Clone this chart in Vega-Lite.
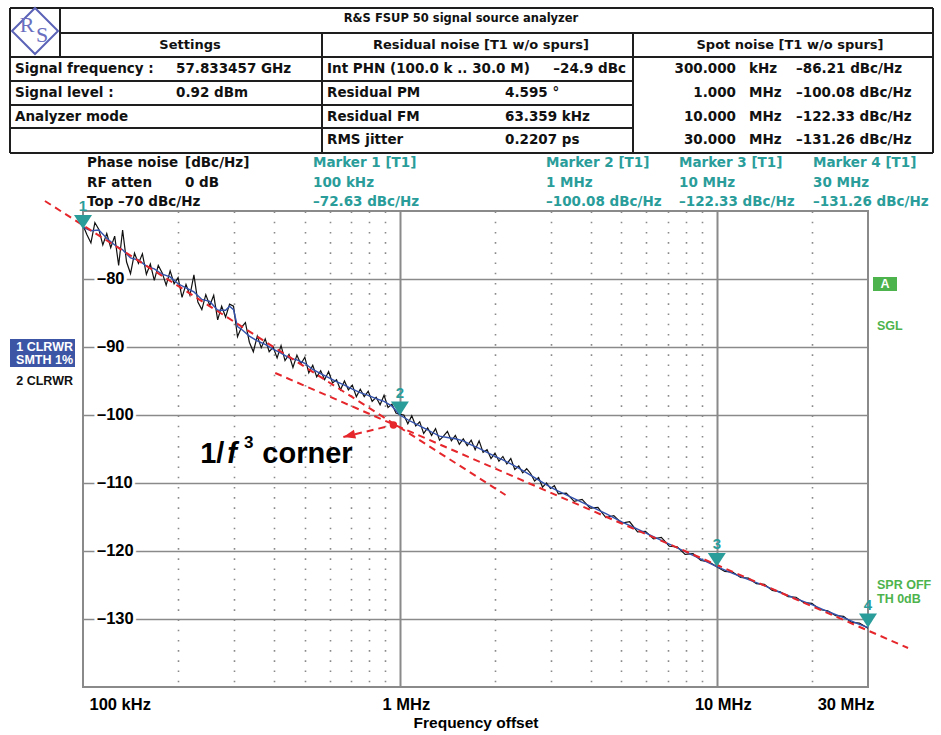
{
  "$schema": "https://vega.github.io/schema/vega-lite/v6.json",
  "width": 785,
  "height": 476,
  "autosize": {"type": "none"},
  "padding": {"left": 83, "top": 211, "right": 73, "bottom": 48},
  "background": "white",
  "config": {"view": {"stroke": "#8a8a8a", "strokeWidth": 2}},
  "datasets": {
    "t2": [
      {"f":100000,"db":-72.1},{"f":102920,"db":-73.5},{"f":105930,"db":-74.7},{"f":109020,"db":-71.7},{"f":112200,"db":-72.7},{"f":115480,"db":-75.0},{"f":118850,"db":-73.3},{"f":122320,"db":-75.4},{"f":125890,"db":-73.7},{"f":129570,"db":-78.0},
      {"f":133350,"db":-72.8},{"f":137250,"db":-77.5},{"f":141250,"db":-79.2},{"f":145380,"db":-76.2},{"f":149620,"db":-77.7},{"f":153990,"db":-76.3},{"f":158490,"db":-79.3},{"f":163120,"db":-77.8},{"f":167880,"db":-80.2},{"f":172780,"db":-78.0},
      {"f":177830,"db":-79.1},{"f":183020,"db":-80.9},{"f":188360,"db":-78.8},{"f":193870,"db":-80.7},{"f":199530,"db":-79.8},{"f":205350,"db":-82.7},{"f":211350,"db":-80.8},{"f":217520,"db":-82.4},{"f":223870,"db":-79.4},{"f":230410,"db":-83.4},
      {"f":237140,"db":-84.5},{"f":244060,"db":-82.3},{"f":251190,"db":-83.9},{"f":258520,"db":-82.4},{"f":266070,"db":-86.0},{"f":273840,"db":-84.0},{"f":281840,"db":-85.6},{"f":290070,"db":-83.7},{"f":298540,"db":-84.0},{"f":307260,"db":-88.5},
      {"f":316230,"db":-87.1},{"f":325460,"db":-86.4},{"f":334970,"db":-89.3},{"f":344750,"db":-90.7},{"f":354810,"db":-88.4},{"f":365170,"db":-90.1},{"f":375840,"db":-88.8},{"f":386810,"db":-90.7},{"f":398110,"db":-90.0},{"f":409730,"db":-91.6},
      {"f":421700,"db":-89.8},{"f":434010,"db":-92.0},{"f":446680,"db":-91.1},{"f":459730,"db":-93.0},{"f":473150,"db":-91.2},{"f":486970,"db":-92.5},{"f":501190,"db":-91.5},{"f":515820,"db":-93.8},{"f":530880,"db":-92.7},{"f":546390,"db":-94.4},
      {"f":562340,"db":-93.5},{"f":578760,"db":-94.8},{"f":595660,"db":-93.6},{"f":613060,"db":-95.3},{"f":630960,"db":-94.8},{"f":649380,"db":-96.3},{"f":668340,"db":-95.0},{"f":687860,"db":-96.3},{"f":707950,"db":-95.6},{"f":728620,"db":-97.3},
      {"f":749890,"db":-96.2},{"f":771790,"db":-97.3},{"f":794330,"db":-96.5},{"f":817520,"db":-98.0},{"f":841400,"db":-97.4},{"f":865960,"db":-98.5},{"f":891250,"db":-97.1},{"f":917280,"db":-98.9},{"f":944060,"db":-98.4},{"f":971630,"db":-99.7},
      {"f":1000000,"db":-99.9},{"f":1029200,"db":-100.0},{"f":1059300,"db":-101.3},{"f":1090200,"db":-100.1},{"f":1122000,"db":-101.6},{"f":1154800,"db":-101.0},{"f":1188500,"db":-102.7},{"f":1223200,"db":-101.9},{"f":1258900,"db":-103.0},{"f":1295700,"db":-102.0},
      {"f":1333500,"db":-103.7},{"f":1372500,"db":-103.1},{"f":1412500,"db":-102.4},{"f":1453800,"db":-103.8},{"f":1496200,"db":-103.0},{"f":1539900,"db":-104.3},{"f":1584900,"db":-103.5},{"f":1631200,"db":-104.5},{"f":1678800,"db":-103.7},{"f":1727800,"db":-105.1},
      {"f":1778300,"db":-103.8},{"f":1830200,"db":-105.5},{"f":1883600,"db":-105.1},{"f":1938700,"db":-106.4},{"f":1995300,"db":-105.6},{"f":2053500,"db":-106.8},{"f":2113500,"db":-106.1},{"f":2175200,"db":-107.2},{"f":2238700,"db":-106.4},{"f":2304100,"db":-108.0},
      {"f":2371400,"db":-107.5},{"f":2440600,"db":-108.5},{"f":2511900,"db":-107.9},{"f":2585200,"db":-108.6},{"f":2660700,"db":-109.7},{"f":2738400,"db":-109.2},{"f":2818400,"db":-110.6},{"f":2900700,"db":-110.0},{"f":2985400,"db":-110.8},{"f":3072600,"db":-110.4},
      {"f":3162300,"db":-111.6},{"f":3349700,"db":-111.5},{"f":3548100,"db":-112.7},{"f":3758400,"db":-112.4},{"f":3981100,"db":-113.7},{"f":4217000,"db":-113.6},{"f":4466800,"db":-115.1},{"f":4731500,"db":-114.8},{"f":5011900,"db":-115.9},{"f":5308800,"db":-115.7},
      {"f":5623400,"db":-117.2},{"f":5956600,"db":-117.1},{"f":6309600,"db":-118.2},{"f":6683400,"db":-118.0},{"f":7079500,"db":-119.3},{"f":7498900,"db":-119.4},{"f":7943300,"db":-120.5},{"f":8414000,"db":-120.4},{"f":8912500,"db":-121.4},{"f":9440600,"db":-121.6},
      {"f":10000000,"db":-122.3},{"f":10593000,"db":-123.0},{"f":11220000,"db":-123.1},{"f":11885000,"db":-123.9},{"f":12589000,"db":-124.0},{"f":13335000,"db":-124.8},{"f":14125000,"db":-124.9},{"f":14962000,"db":-125.8},{"f":15849000,"db":-126.0},{"f":16788000,"db":-126.7},
      {"f":17783000,"db":-126.8},{"f":18836000,"db":-127.6},{"f":19953000,"db":-127.7},{"f":21135000,"db":-128.6},{"f":22387000,"db":-128.8},{"f":23714000,"db":-129.5},{"f":25119000,"db":-129.6},{"f":26607000,"db":-130.5},{"f":28184000,"db":-130.6},{"f":29854000,"db":-131.3},
      {"f":30000000,"db":-131.3}
    ],
    "t1": [
      {"f":100000,"db":-72.4},{"f":105930,"db":-72.9},{"f":112200,"db":-72.8},{"f":118850,"db":-74.0},{"f":125890,"db":-75.0},{"f":133350,"db":-75.7},{"f":141250,"db":-76.9},{"f":149620,"db":-77.2},{"f":158490,"db":-78.1},{"f":167880,"db":-78.5},
      {"f":177830,"db":-79.3},{"f":188360,"db":-79.7},{"f":199530,"db":-80.7},{"f":211350,"db":-81.3},{"f":223870,"db":-81.9},{"f":237140,"db":-83.0},{"f":251190,"db":-83.3},{"f":266070,"db":-84.6},{"f":281840,"db":-84.6},{"f":290070,"db":-84.0},
      {"f":298540,"db":-84.5},{"f":307260,"db":-87.0},{"f":316230,"db":-87.4},{"f":334970,"db":-88.4},{"f":354810,"db":-89.1},{"f":375840,"db":-89.6},{"f":398110,"db":-90.3},{"f":421700,"db":-90.9},{"f":446680,"db":-91.6},{"f":473150,"db":-91.9},
      {"f":501190,"db":-92.4},{"f":530880,"db":-93.3},{"f":562340,"db":-93.9},{"f":595660,"db":-94.5},{"f":630960,"db":-95.1},{"f":668340,"db":-95.6},{"f":707950,"db":-96.2},{"f":749890,"db":-96.7},{"f":794330,"db":-97.1},{"f":841400,"db":-97.6},
      {"f":891250,"db":-98.0},{"f":944060,"db":-98.7},{"f":1000000,"db":-100.0},{"f":1059300,"db":-100.7},{"f":1122000,"db":-101.3},{"f":1188500,"db":-101.9},{"f":1258900,"db":-102.5},{"f":1333500,"db":-103.1},{"f":1412500,"db":-103.3},{"f":1496200,"db":-103.5},
      {"f":1584900,"db":-103.8},{"f":1678800,"db":-104.4},{"f":1778300,"db":-104.9},{"f":1883600,"db":-105.5},{"f":1995300,"db":-106.1},{"f":2113500,"db":-106.6},{"f":2238700,"db":-107.2},{"f":2371400,"db":-107.8},{"f":2511900,"db":-108.5},{"f":2660700,"db":-109.2},
      {"f":2818400,"db":-109.9},{"f":2985400,"db":-110.6},{"f":3162300,"db":-111.2},{"f":3548100,"db":-112.3},{"f":3981100,"db":-113.4},{"f":4466800,"db":-114.5},{"f":5011900,"db":-115.7},{"f":5623400,"db":-116.8},{"f":6309600,"db":-117.9},{"f":7079500,"db":-119.0},
      {"f":7943300,"db":-120.1},{"f":8912500,"db":-121.2},{"f":10000000,"db":-122.3},{"f":11220000,"db":-123.3},{"f":12589000,"db":-124.2},{"f":14125000,"db":-125.1},{"f":15849000,"db":-126.1},{"f":17783000,"db":-127.0},{"f":19953000,"db":-127.9},{"f":22387000,"db":-128.9},
      {"f":25119000,"db":-129.8},{"f":28184000,"db":-130.8},{"f":30000000,"db":-131.26}
    ],
    "fits": [
      {"fit":"1/f3","f":75840,"db":-68.53},{"fit":"1/f3","f":2154400,"db":-111.76},
      {"fit":"1/f2","f":404250,"db":-93.82},{"fit":"1/f2","f":40130000,"db":-134.26},
      {"fit":"arrow","f":954000,"db":-101.47},{"fit":"arrow","f":663000,"db":-103.24}
    ],
    "corner": [{"f":954000,"db":-101.47}],
    "markers": [
      {"n":"1","f":100000,"db":-72.63},
      {"n":"2","f":1000000,"db":-100.08},
      {"n":"3","f":10000000,"db":-122.33},
      {"n":"4","f":30000000,"db":-131.26}
    ],
    "ylabels": [
      {"db":-80,"label":"–80"},{"db":-90,"label":"–90"},{"db":-100,"label":"–100"},
      {"db":-110,"label":"–110"},{"db":-120,"label":"–120"},{"db":-130,"label":"–130"}
    ],
    "boxes": [
      {"box":"trace","c":0,"c2":5,"r":21,"r2":24},
      {"box":"mode","c":25,"c2":28,"r":17,"r2":19}
    ],
    "borders": [
      {"c":0,"c2":29,"r":0,"r2":0},
      {"c":0,"c2":29,"r":13,"r2":13},
      {"c":0,"c2":0,"r":0,"r2":13},
      {"c":29,"c2":29,"r":0,"r2":13},
      {"c":3,"c2":3,"r":0,"r2":5},
      {"c":3,"c2":29,"r":3,"r2":3},
      {"c":0,"c2":29,"r":5,"r2":5},
      {"c":11,"c2":11,"r":3,"r2":13},
      {"c":18,"c2":18,"r":3,"r2":13},
      {"c":0,"c2":18,"r":7,"r2":7},
      {"c":0,"c2":18,"r":9,"r2":9},
      {"c":0,"c2":18,"r":11,"r2":11}
    ],
    "labels": [
      {"part":"title","t":"R&S FSUP 50 signal source analyzer","c":13,"r":1},
      {"part":"head","t":"Settings","c":9,"r":4},
      {"part":"head","t":"Residual noise [T1 w/o spurs]","c":14,"r":4},
      {"part":"head","t":"Spot noise [T1 w/o spurs]","c":22,"r":4},
      {"part":"cell","t":"Signal frequency :","c":1,"r":6},
      {"part":"cell","t":"57.833457 GHz","c":7,"r":6},
      {"part":"cell","t":"Signal level :","c":1,"r":8},
      {"part":"cell","t":"0.92 dBm","c":7,"r":8},
      {"part":"cell","t":"Analyzer mode","c":1,"r":10},
      {"part":"cell","t":"Int PHN (100.0 k .. 30.0 M)","c":12,"r":6},
      {"part":"cell","t":"Residual PM","c":12,"r":8},
      {"part":"cell","t":"4.595 °","c":15,"r":8},
      {"part":"cell","t":"Residual FM","c":12,"r":10},
      {"part":"cell","t":"63.359 kHz","c":15,"r":10},
      {"part":"cell","t":"RMS jitter","c":12,"r":12},
      {"part":"cell","t":"0.2207 ps","c":15,"r":12},
      {"part":"cell","t":"kHz","c":21,"r":6},
      {"part":"cell","t":"MHz","c":21,"r":8},
      {"part":"cell","t":"MHz","c":21,"r":10},
      {"part":"cell","t":"MHz","c":21,"r":12},
      {"part":"cell","t":"–86.21 dBc/Hz","c":23,"r":6},
      {"part":"cell","t":"–100.08 dBc/Hz","c":23,"r":8},
      {"part":"cell","t":"–122.33 dBc/Hz","c":23,"r":10},
      {"part":"cell","t":"–131.26 dBc/Hz","c":23,"r":12},
      {"part":"cell","t":"Phase noise","c":6,"r":14},
      {"part":"cell","t":"[dBc/Hz]","c":8,"r":14},
      {"part":"cell","t":"RF atten","c":6,"r":15},
      {"part":"cell","t":"0 dB","c":8,"r":15},
      {"part":"cell","t":"Top –70 dBc/Hz","c":6,"r":16},
      {"part":"num","t":"–24.9 dBc","c":17,"r":6},
      {"part":"num","t":"300.000","c":20,"r":6},
      {"part":"num","t":"1.000","c":20,"r":8},
      {"part":"num","t":"10.000","c":20,"r":10},
      {"part":"num","t":"30.000","c":20,"r":12},
      {"part":"marker","t":"Marker 1 [T1]","c":10,"r":14},
      {"part":"marker","t":"100 kHz","c":10,"r":15},
      {"part":"marker","t":"–72.63 dBc/Hz","c":10,"r":16},
      {"part":"marker","t":"Marker 2 [T1]","c":16,"r":14},
      {"part":"marker","t":"1 MHz","c":16,"r":15},
      {"part":"marker","t":"–100.08 dBc/Hz","c":16,"r":16},
      {"part":"marker","t":"Marker 3 [T1]","c":19,"r":14},
      {"part":"marker","t":"10 MHz","c":19,"r":15},
      {"part":"marker","t":"–122.33 dBc/Hz","c":19,"r":16},
      {"part":"marker","t":"Marker 4 [T1]","c":24,"r":14},
      {"part":"marker","t":"30 MHz","c":24,"r":15},
      {"part":"marker","t":"–131.26 dBc/Hz","c":24,"r":16},
      {"part":"trace","t":"1 CLRWR","c":4,"r":22},
      {"part":"trace","t":"SMTH 1%","c":4,"r":23},
      {"part":"trace2","t":"2 CLRWR","c":4,"r":25},
      {"part":"status","t":"SGL","c":26,"r":20},
      {"part":"status","t":"SPR OFF","c":26,"r":26},
      {"part":"status","t":"TH 0dB","c":26,"r":27},
      {"part":"mode","t":"A","c":27,"r":18}
    ]
  },
  "layer": [
    {
      "layer": [
        {
          "data": {"name": "t2"},
          "mark": {"type": "line", "color": "#111111", "strokeWidth": 1.2},
          "encoding": {
            "x": {
              "field": "f", "type": "quantitative",
              "scale": {"type": "log", "domain": [100000, 30000000], "nice": false},
              "axis": {
                "values": [100000,200000,300000,400000,500000,600000,700000,800000,900000,1000000,2000000,3000000,4000000,5000000,6000000,7000000,8000000,9000000,10000000,20000000,30000000],
                "labelExpr": "datum.value == 100000 ? '100 kHz' : datum.value == 1000000 ? '1 MHz' : datum.value == 10000000 ? '10 MHz' : datum.value == 30000000 ? '30 MHz' : ''",
                "labelOverlap": false,
                "labelFlush": true,
                "labelOffset": 6,
                "labelPadding": 9,
                "labelFont": "Liberation Sans",
                "labelFontSize": 16.5,
                "labelFontWeight": "bold",
                "labelColor": "black",
                "ticks": false,
                "domain": false,
                "grid": true,
                "gridColor": "#8a8a8a",
                "gridWidth": {"condition": {"test": "datum.value == 1000000 || datum.value == 10000000", "value": 2}, "value": 1.6},
                "gridDash": {"condition": {"test": "datum.value == 1000000 || datum.value == 10000000", "value": []}, "value": [1.6, 8.6]},
                "gridOpacity": {"condition": {"test": "datum.value == 100000 || datum.value == 30000000", "value": 0}, "value": 1},
                "title": "Frequency offset",
                "titleFont": "Liberation Sans",
                "titleFontSize": 15.5,
                "titleFontWeight": "bold",
                "titleColor": "black",
                "titlePadding": 3
              }
            },
            "y": {
              "field": "db", "type": "quantitative",
              "scale": {"domain": [-140, -70], "nice": false, "zero": false},
              "axis": {
                "values": [-80,-90,-100,-110,-120,-130],
                "grid": true, "gridColor": "#8a8a8a", "gridWidth": 1.6,
                "labels": false, "ticks": false, "domain": false, "title": null
              }
            }
          }
        },
        {"data": {"name": "t1"}, "mark": {"type": "line", "color": "#3352ad", "strokeWidth": 1.4},
         "encoding": {"x": {"field": "f", "type": "quantitative"}, "y": {"field": "db", "type": "quantitative"}}},
        {"data": {"name": "fits"}, "mark": {"type": "line", "color": "#e5262b", "strokeWidth": 2, "strokeDash": [7, 5]},
         "encoding": {"x": {"field": "f", "type": "quantitative"}, "y": {"field": "db", "type": "quantitative"}, "detail": {"field": "fit"}}},
        {"data": {"name": "corner"}, "mark": {"type": "point", "shape": "circle", "filled": true, "color": "#e5262b", "size": 55, "opacity": 1},
         "encoding": {"x": {"field": "f", "type": "quantitative"}, "y": {"field": "db", "type": "quantitative"}}},
        {"data": {"name": "fits"}, "transform": [{"filter": "datum.fit == 'arrow' && datum.f < 700000"}],
         "mark": {"type": "point", "shape": "M0,0L2,-0.75L2,0.75Z", "size": 144, "filled": true, "color": "#e5262b", "angle": 346, "opacity": 1},
         "encoding": {"x": {"field": "f", "type": "quantitative"}, "y": {"field": "db", "type": "quantitative"}}},
        {"data": {"name": "markers"}, "mark": {"type": "point", "shape": "M-1,-1.55L1,-1.55L0,0Z", "size": 324, "filled": true, "color": "#2a9d9a", "opacity": 1},
         "encoding": {"x": {"field": "f", "type": "quantitative"}, "y": {"field": "db", "type": "quantitative"}}},
        {"data": {"name": "markers"}, "mark": {"type": "text", "dy": -23, "font": "Liberation Sans", "fontSize": 15, "fontWeight": "bold", "color": "#2a9d9a", "baseline": "middle"},
         "encoding": {"x": {"field": "f", "type": "quantitative"}, "y": {"field": "db", "type": "quantitative"}, "text": {"field": "n"}}},
        {"data": {"name": "ylabels"}, "mark": {"type": "text", "align": "left", "baseline": "middle", "font": "Liberation Sans", "fontSize": 16.5, "fontWeight": "bold", "fill": "white", "stroke": "white", "strokeWidth": 6},
         "encoding": {"x": {"datum": 110700, "type": "quantitative"}, "y": {"field": "db", "type": "quantitative"}, "text": {"field": "label"}}},
        {"data": {"name": "ylabels"}, "mark": {"type": "text", "align": "left", "baseline": "middle", "font": "Liberation Sans", "fontSize": 16.5, "fontWeight": "bold", "color": "black"},
         "encoding": {"x": {"datum": 110700, "type": "quantitative"}, "y": {"field": "db", "type": "quantitative"}, "text": {"field": "label"}}},
        {"data": {"values": [{}]}, "mark": {"type": "text", "text": "1/", "align": "left", "baseline": "alphabetic", "font": "Liberation Sans", "fontSize": 29, "fontWeight": "bold", "color": "black"},
         "encoding": {"x": {"datum": 234300, "type": "quantitative"}, "y": {"datum": -107.06, "type": "quantitative"}}},
        {"data": {"values": [{}]}, "mark": {"type": "text", "text": "f", "align": "left", "baseline": "alphabetic", "font": "Liberation Sans", "fontSize": 29, "fontWeight": "bold", "fontStyle": "italic", "color": "black"},
         "encoding": {"x": {"datum": 285100, "type": "quantitative"}, "y": {"datum": -107.06, "type": "quantitative"}}},
        {"data": {"values": [{}]}, "mark": {"type": "text", "text": "3", "align": "left", "baseline": "alphabetic", "font": "Liberation Sans", "fontSize": 17, "fontWeight": "bold", "color": "black"},
         "encoding": {"x": {"datum": 322000, "type": "quantitative"}, "y": {"datum": -104.85, "type": "quantitative"}}},
        {"data": {"values": [{}]}, "mark": {"type": "text", "text": "corner", "align": "left", "baseline": "alphabetic", "font": "Liberation Sans", "fontSize": 29, "fontWeight": "bold", "color": "black"},
         "encoding": {"x": {"datum": 368000, "type": "quantitative"}, "y": {"datum": -107.06, "type": "quantitative"}}}
      ]
    },
    {
      "layer": [
        {"data": {"name": "boxes"}, "mark": {"type": "rect"},
         "encoding": {
           "x": {
             "field": "c", "type": "quantitative", "axis": null,
             "scale": {"type": "linear", "nice": false, "zero": false,
               "domain": [0,1,2,3,4,5,6,7,8,9,10,11,12,13,14,15,16,17,18,19,20,21,22,23,24,25,26,27,28,29],
               "range": [-73,-68,-48,-23,-10,-8,4,93,102,107,230,239,244,378,398,422,463,543,550,596,653,666,707,713,730,790,794,802,814,850]}
           },
           "y": {
             "field": "r", "type": "quantitative", "axis": null,
             "scale": {"type": "linear", "nice": false, "zero": false,
               "domain": [0,1,2,3,4,5,6,7,8,9,10,11,12,13,14,15,16,17,18,19,20,21,22,23,24,25,26,27],
               "range": [-203,-192,-180,-178,-166,-154,-142,-130,-118,-106,-94,-83,-71,-58,-48,-28,-9,66,73,80,115,128,136,149,156,170,374,388]}
           },
           "x2": {"field": "c2"}, "y2": {"field": "r2"},
           "color": {"field": "box", "type": "nominal", "scale": {"domain": ["trace", "mode"], "range": ["#3d55a5", "#4db34d"]}, "legend": null}
         }},
        {"data": {"name": "borders"}, "mark": {"type": "rule", "color": "#1e1e1e", "strokeWidth": 2},
         "encoding": {"x": {"field": "c", "type": "quantitative", "axis": null}, "y": {"field": "r", "type": "quantitative", "axis": null}, "x2": {"field": "c2"}, "y2": {"field": "r2"}}},
        {"data": {"values": [{}]}, "mark": {"type": "point", "shape": "diamond", "size": 2116, "filled": false, "color": "#5b63b7", "strokeWidth": 2, "opacity": 1},
         "encoding": {"x": {"datum": 2, "type": "quantitative", "axis": null}, "y": {"datum": 2, "type": "quantitative", "axis": null}}},
        {"data": {"values": [{}]}, "mark": {"type": "text", "text": "R", "dx": -8, "dy": -6, "font": "Liberation Serif", "fontSize": 22, "color": "#6a6fc0", "baseline": "middle"},
         "encoding": {"x": {"datum": 2, "type": "quantitative", "axis": null}, "y": {"datum": 2, "type": "quantitative", "axis": null}}},
        {"data": {"values": [{}]}, "mark": {"type": "text", "text": "S", "dx": 7, "dy": 4, "font": "Liberation Serif", "fontSize": 22, "color": "#6a6fc0", "baseline": "middle"},
         "encoding": {"x": {"datum": 2, "type": "quantitative", "axis": null}, "y": {"datum": 2, "type": "quantitative", "axis": null}}},
        {"data": {"name": "labels"}, "transform": [{"filter": "datum.part == 'title'"}], "mark": {"type": "text", "align": "center", "baseline": "middle", "font": "DejaVu Sans", "fontSize": 11.5, "fontWeight": "bold", "color": "#111111"},
         "encoding": {"x": {"field": "c", "type": "quantitative", "axis": null}, "y": {"field": "r", "type": "quantitative", "axis": null}, "text": {"field": "t"}}},
        {"data": {"name": "labels"}, "transform": [{"filter": "datum.part == 'head'"}], "mark": {"type": "text", "align": "center", "baseline": "middle", "font": "DejaVu Sans", "fontSize": 13, "fontWeight": "bold", "color": "#111111"},
         "encoding": {"x": {"field": "c", "type": "quantitative", "axis": null}, "y": {"field": "r", "type": "quantitative", "axis": null}, "text": {"field": "t"}}},
        {"data": {"name": "labels"}, "transform": [{"filter": "datum.part == 'cell'"}], "mark": {"type": "text", "align": "left", "baseline": "middle", "font": "DejaVu Sans", "fontSize": 13.5, "fontWeight": "bold", "color": "#111111"},
         "encoding": {"x": {"field": "c", "type": "quantitative", "axis": null}, "y": {"field": "r", "type": "quantitative", "axis": null}, "text": {"field": "t"}}},
        {"data": {"name": "labels"}, "transform": [{"filter": "datum.part == 'num'"}], "mark": {"type": "text", "align": "right", "baseline": "middle", "font": "DejaVu Sans", "fontSize": 13.5, "fontWeight": "bold", "color": "#111111"},
         "encoding": {"x": {"field": "c", "type": "quantitative", "axis": null}, "y": {"field": "r", "type": "quantitative", "axis": null}, "text": {"field": "t"}}},
        {"data": {"name": "labels"}, "transform": [{"filter": "datum.part == 'marker'"}], "mark": {"type": "text", "align": "left", "baseline": "middle", "font": "DejaVu Sans", "fontSize": 13.5, "fontWeight": "bold", "color": "#2a9d9a"},
         "encoding": {"x": {"field": "c", "type": "quantitative", "axis": null}, "y": {"field": "r", "type": "quantitative", "axis": null}, "text": {"field": "t"}}},
        {"data": {"name": "labels"}, "transform": [{"filter": "datum.part == 'trace'"}], "mark": {"type": "text", "align": "right", "baseline": "middle", "font": "Liberation Sans", "fontSize": 12.5, "fontWeight": "bold", "color": "white"},
         "encoding": {"x": {"field": "c", "type": "quantitative", "axis": null}, "y": {"field": "r", "type": "quantitative", "axis": null}, "text": {"field": "t"}}},
        {"data": {"name": "labels"}, "transform": [{"filter": "datum.part == 'trace2'"}], "mark": {"type": "text", "align": "right", "baseline": "middle", "font": "Liberation Sans", "fontSize": 12.5, "fontWeight": "bold", "color": "#111111"},
         "encoding": {"x": {"field": "c", "type": "quantitative", "axis": null}, "y": {"field": "r", "type": "quantitative", "axis": null}, "text": {"field": "t"}}},
        {"data": {"name": "labels"}, "transform": [{"filter": "datum.part == 'status'"}], "mark": {"type": "text", "align": "left", "baseline": "middle", "font": "Liberation Sans", "fontSize": 12.5, "fontWeight": "bold", "color": "#4db34d"},
         "encoding": {"x": {"field": "c", "type": "quantitative", "axis": null}, "y": {"field": "r", "type": "quantitative", "axis": null}, "text": {"field": "t"}}},
        {"data": {"name": "labels"}, "transform": [{"filter": "datum.part == 'mode'"}], "mark": {"type": "text", "align": "center", "baseline": "middle", "font": "Liberation Sans", "fontSize": 12.5, "fontWeight": "bold", "color": "white"},
         "encoding": {"x": {"field": "c", "type": "quantitative", "axis": null}, "y": {"field": "r", "type": "quantitative", "axis": null}, "text": {"field": "t"}}}
      ]
    }
  ],
  "resolve": {"scale": {"x": "independent", "y": "independent"}}
}
